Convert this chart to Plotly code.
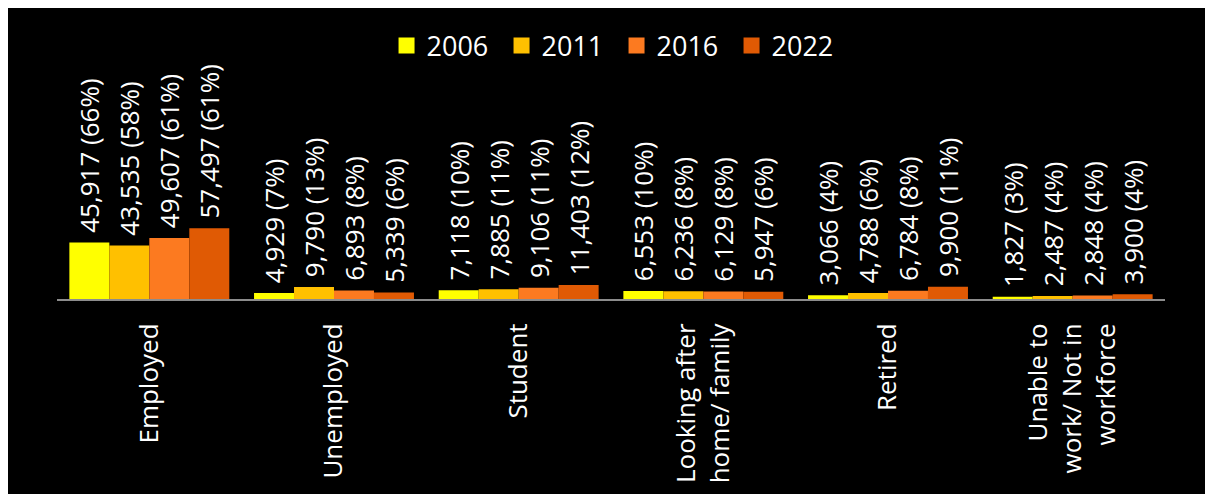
import plotly.graph_objects as go

categories = ["Employed", "Unemployed", "Student", "Looking after<br>home/ family",
              "Retired", "Unable to<br>work/ Not in<br>workforce"]
years = ["2006", "2011", "2016", "2022"]
v2006 = [45917, 4929, 7118, 6553, 3066, 1827]
v2011 = [43535, 9790, 7885, 6236, 4788, 2487]
v2016 = [49607, 6893, 9106, 6129, 6784, 2848]
v2022 = [57497, 5339, 11403, 5947, 9900, 3900]
p2006 = [66, 7, 10, 10, 4, 3]
p2011 = [58, 13, 11, 8, 6, 4]
p2016 = [61, 8, 11, 8, 8, 4]
p2022 = [61, 6, 12, 6, 11, 4]
colors = ["#FFFF00", "#FFC000", "#FC7A20", "#E05A04"]

W, H = 1205, 486
ML, MR, MT, MB = 49, 48, 45, 195
PW = W - ML - MR
PH = H - MT - MB

font = "Open Sans, Lato, sans-serif"
fig = go.Figure()
for yr, vals, pcts, col in zip(years, [v2006, v2011, v2016, v2022],
                               [p2006, p2011, p2016, p2022], colors):
    fig.add_trace(go.Bar(
        x=categories, y=vals, name=yr, marker=dict(color=col, line=dict(width=0)),
        text=[f"\u00a0{v:,} ({p}%)" for v, p in zip(vals, pcts)],
        textposition="outside", textangle=-90, constraintext="none",
        cliponaxis=False, outsidetextfont=dict(color="white", size=26, family=font),
        showlegend=False, hoverinfo="skip"))
    fig.add_trace(go.Scatter(
        x=[categories[0]], y=[None], mode="markers", name=yr,
        marker=dict(symbol="square", size=16, color=col), showlegend=True))


def px_y(p):
    return 1 - (p - MT) / PH


fig.update_layout(
    width=W, height=H,
    margin=dict(l=ML, r=MR, t=MT, b=MB, autoexpand=False),
    paper_bgcolor="black", plot_bgcolor="black",
    barmode="group", bargap=0.134, bargroupgap=0,
    font=dict(family=font, color="white", size=26),
    legend=dict(orientation="h", x=0.505, xanchor="center", y=px_y(38), yanchor="middle",
                font=dict(size=27, color="white", family=font), bgcolor="rgba(0,0,0,0)",
                itemwidth=30, entrywidth=70, entrywidthmode="pixels"),
    xaxis=dict(showline=True, linecolor="#8c8c8c", linewidth=2, showgrid=False,
               tickangle=-90, ticks="", ticklabelstandoff=12,
               tickfont=dict(size=26, color="white", family=font)),
    yaxis=dict(range=[0, 200000], visible=False, showgrid=False, zeroline=False),
)

fig.write_html("out.html",
               post_script="document.documentElement.style.overflow='hidden';"
                           "document.body.style.overflow='hidden';")
